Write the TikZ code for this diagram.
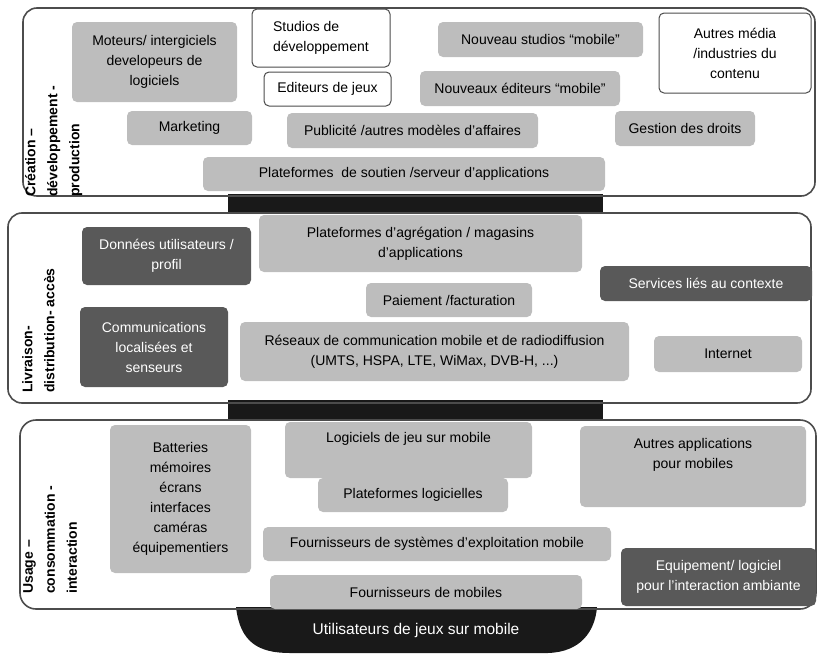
\documentclass[tikz,border=0pt]{standalone}
\usepackage{fontspec}
\setmainfont{Liberation Sans}
\usetikzlibrary{positioning}

\begin{document}
\begin{tikzpicture}[x=1pt,y=-1pt]
\tikzset{
  box/.style={rectangle,rounded corners=5pt,inner sep=0pt,align=center,font=\fontsize{14}{20}\selectfont},
  lightbox/.style={box,fill=black!26},
  darkbox/.style={box,fill=black!65,text=white},
  openbox/.style={box,draw=black!70,line width=1pt,fill=white},
  sidelabel/.style={rotate=90,anchor=north west,align=left,inner sep=0pt,font=\fontsize{14}{22}\selectfont\bfseries},
  panelframe/.style={draw=black!70,line width=1.6pt,line join=round},
  linkbar/.style={fill=black!90,draw=none}
}
\useasboundingbox (0,0) rectangle (817,656);
% links between the layers
\fill[linkbar] (228,194) rectangle (603,214);
\fill[linkbar] (228,400) rectangle (603,421);
\fill[linkbar] (236,607) .. controls (240,642) and (258,653) .. (290,653) -- (548,653) .. controls (580,652) and (595,632) .. (597,607) -- cycle;
\node[font=\fontsize{15.5}{18}\selectfont,text=white] (n_users) at (416,630) {Utilisateurs de jeux sur mobile};
% layers
\draw[panelframe] (400,8) [rounded corners=14pt] -- (815,8) -- (815,196) -- (23,196) -- (23,8) [rounded corners=28pt] -- cycle;
\draw[panelframe] (400,213) [rounded corners=14pt] -- (811,213) -- (811,403) -- (8,403) -- (8,213) [rounded corners=32pt] -- cycle;
\draw[panelframe] (400,420) [rounded corners=16pt] -- (816,420) -- (816,609) -- (20,609) -- (20,420) [rounded corners=26pt] -- cycle;
\node[sidelabel] (n_creation) at (25,197) {Création –\\développement -\\production};
\node[sidelabel] (n_delivery) at (22,393) {Livraison-\\distribution- accès};
\node[sidelabel] (n_usage) at (23,594) {Usage –\\consommation -\\interaction};
% creation layer
\node[lightbox,minimum width=165,minimum height=80] (n_engines) at (154.5,62) {Moteurs/ intergiciels\\developeurs de\\logiciels};
\node[openbox,minimum width=138,minimum height=58,align=left] (n_studios) at (321,38) {Studios de\\développement};
\node[openbox,minimum width=127,minimum height=34] (n_editors) at (327.5,89) {Editeurs de jeux};
\node[lightbox,minimum width=205,minimum height=35] (n_newstudios) at (540.5,39.5) {Nouveau studios “mobile”};
\node[openbox,minimum width=152,minimum height=80] (n_media) at (735,53) {Autres média\\/industries du\\contenu};
\node[lightbox,minimum width=200,minimum height=35] (n_neweditors) at (520,88.5) {Nouveaux éditeurs “mobile”};
\node[lightbox,minimum width=125,minimum height=34] (n_marketing) at (189.5,128) {Marketing};
\node[lightbox,minimum width=251,minimum height=35] (n_advertising) at (412.5,130.5) {Publicité /autres modèles d’affaires};
\node[lightbox,minimum width=140,minimum height=35] (n_rights) at (685,128.5) {Gestion des droits};
\node[lightbox,minimum width=402,minimum height=34] (n_backend) at (404,174) {Plateformes \ de soutien /serveur d’applications};
% delivery layer
\node[darkbox,minimum width=169,minimum height=58] (n_userdata) at (166.5,256) {Données utilisateurs /\\profil};
\node[lightbox,minimum width=323,minimum height=57] (n_appstores) at (420.5,243.5) {Plateformes d’agrégation / magasins\\d’applications};
\node[lightbox,minimum width=166,minimum height=34] (n_payment) at (449,300) {Paiement /facturation};
\node[darkbox,minimum width=212,minimum height=35] (n_context) at (706,283.5) {Services liés au contexte};
\node[darkbox,minimum width=148,minimum height=80] (n_localcomm) at (154,347) {Communications\\localisées et\\senseurs};
\node[lightbox,minimum width=389,minimum height=59] (n_networks) at (434.5,351.5) {Réseaux de communication mobile et de radiodiffusion\\(UMTS, HSPA, LTE, WiMax, DVB-H, ...)};
\node[lightbox,minimum width=148,minimum height=36] (n_internet) at (728,354) {Internet};
% usage layer
\node[lightbox,minimum width=141,minimum height=148] (n_hardware) at (180.5,499) {Batteries\\mémoires\\écrans\\interfaces\\caméras\\équipementiers};
\node[lightbox,minimum width=247,minimum height=56] (n_gamesw) at (408.5,450) {Logiciels de jeu sur mobile\\\strut};
\node[lightbox,minimum width=190,minimum height=34] (n_swplatforms) at (413,495) {Plateformes logicielles};
\node[lightbox,minimum width=226,minimum height=81] (n_otherapps) at (693,466.5) {Autres applications\\pour mobiles\\\strut};
\node[lightbox,minimum width=348,minimum height=34] (n_osvendors) at (437,544) {Fournisseurs de systèmes d’exploitation mobile};
\node[darkbox,minimum width=195,minimum height=58] (n_ambient) at (718.5,577) {Equipement/ logiciel\\pour l’interaction ambiante};
\node[lightbox,minimum width=312,minimum height=34] (n_handsets) at (426,592) {Fournisseurs de mobiles};
\end{tikzpicture}
\end{document}
